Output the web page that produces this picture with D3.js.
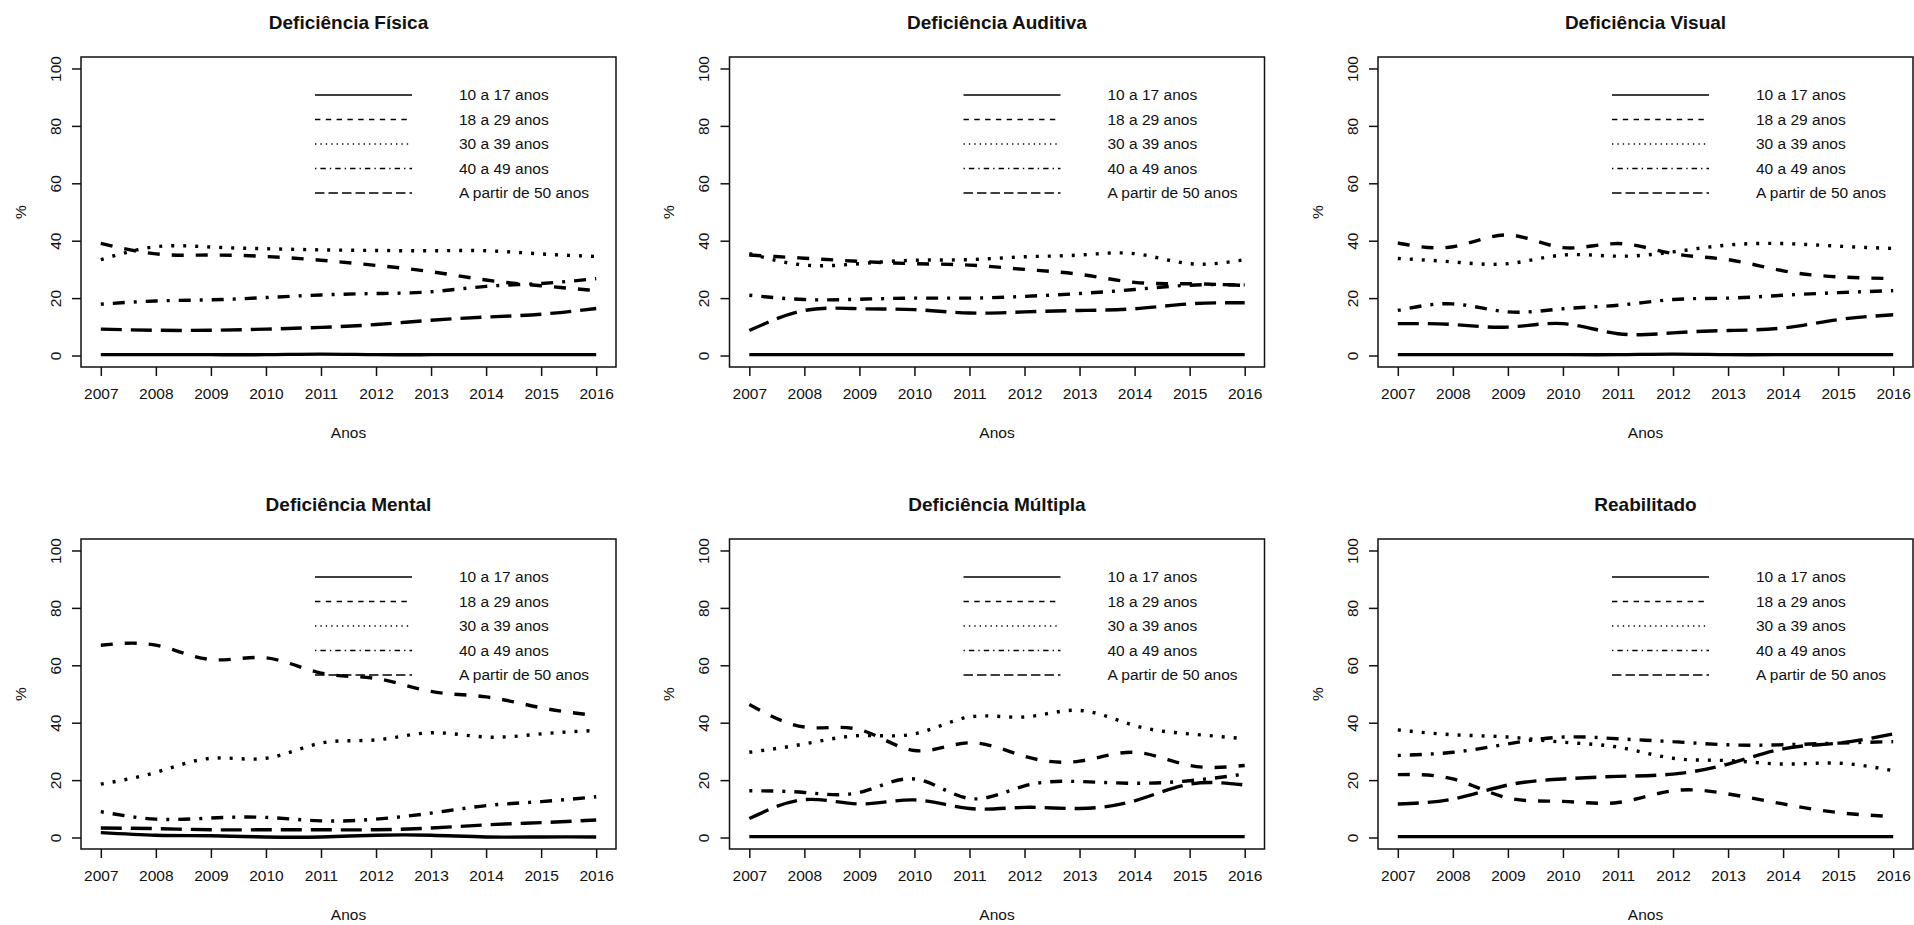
<!DOCTYPE html>
<html>
<head>
<meta charset="utf-8">
<script src="https://cdn.jsdelivr.net/npm/d3@7"></script>
<style>
  html, body { margin: 0; padding: 0; background: #fff; }
  svg text { font-family: 'Liberation Sans', Arial, sans-serif; fill: #111; }
</style>
</head>
<body>
<div class="grafico"></div>
<script>
;(function () {
  var years = [2007, 2008, 2009, 2010, 2011, 2012, 2013, 2014, 2015, 2016]
  var yTicks = [0, 20, 40, 60, 80, 100]
  var groups = ['10 a 17 anos', '18 a 29 anos', '30 a 39 anos', '40 a 49 anos', 'A partir de 50 anos']
  var titles = ['Deficiência Física', 'Deficiência Auditiva', 'Deficiência Visual',
    'Deficiência Mental', 'Deficiência Múltipla', 'Reabilitado']

  // one row per age group, same order as groups
  var fisica = [
    [0.3, 0.3, 0.3, 0.3, 0.5, 0.3, 0.3, 0.3, 0.3, 0.3],
    [39.1, 35.4, 35.0, 34.5, 33.2, 31.4, 29.2, 26.3, 24.3, 22.6],
    [33.4, 37.9, 37.8, 37.2, 36.8, 36.6, 36.5, 36.5, 35.4, 34.5],
    [17.9, 19.0, 19.4, 20.2, 21.1, 21.6, 22.2, 24.1, 25.1, 26.8],
    [9.2, 8.8, 8.8, 9.2, 9.8, 10.8, 12.3, 13.4, 14.4, 16.4]
  ]
  var auditiva = [
    [0.3, 0.3, 0.3, 0.3, 0.3, 0.3, 0.3, 0.3, 0.3, 0.3],
    [35.0, 33.9, 32.8, 32.0, 31.5, 30.0, 28.3, 25.5, 25.0, 24.4],
    [35.5, 31.5, 32.0, 33.2, 33.4, 34.4, 35.0, 35.5, 32.0, 33.4],
    [21.0, 19.5, 19.6, 20.0, 20.0, 20.6, 21.6, 23.0, 24.5, 24.6],
    [8.7, 15.7, 16.3, 16.0, 14.8, 15.2, 15.7, 16.3, 18.0, 18.4]
  ]
  var visual = [
    [0.3, 0.3, 0.3, 0.3, 0.3, 0.5, 0.3, 0.3, 0.3, 0.3],
    [39.2, 37.9, 42.0, 37.6, 39.0, 35.5, 33.4, 29.5, 27.4, 26.8],
    [33.8, 32.6, 32.0, 35.0, 34.6, 36.1, 38.5, 39.0, 38.1, 37.3],
    [15.7, 18.0, 15.2, 16.3, 17.5, 19.5, 20.0, 21.0, 21.9, 22.6],
    [11.1, 10.8, 9.9, 11.1, 7.6, 7.9, 8.7, 9.6, 12.5, 14.2]
  ]
  var mental = [
    [1.7, 0.8, 0.6, 0.2, 0.2, 0.8, 0.8, 0.2, 0.2, 0.2],
    [67.0, 67.0, 62.0, 62.6, 57.3, 55.4, 50.9, 49.0, 45.2, 42.5],
    [18.6, 22.7, 27.6, 27.6, 32.9, 34.0, 36.5, 35.0, 36.1, 37.3],
    [9.0, 6.4, 6.8, 7.0, 5.8, 6.4, 8.5, 11.1, 12.5, 14.2],
    [3.3, 3.1, 2.7, 2.7, 2.7, 2.7, 3.3, 4.4, 5.2, 6.1]
  ]
  var multipla = [
    [0.3, 0.3, 0.3, 0.3, 0.3, 0.3, 0.3, 0.3, 0.3, 0.3],
    [46.3, 38.5, 37.6, 30.3, 33.0, 28.3, 26.6, 29.7, 25.1, 25.1],
    [29.7, 32.6, 35.5, 36.1, 42.0, 42.0, 44.3, 39.0, 36.1, 34.4],
    [16.3, 15.7, 15.7, 20.4, 13.6, 18.0, 19.5, 18.9, 19.8, 22.1],
    [6.6, 13.2, 11.7, 13.1, 10.1, 10.5, 10.1, 12.8, 18.6, 18.3]
  ]
  var reabilitado = [
    [0.3, 0.3, 0.3, 0.3, 0.3, 0.3, 0.3, 0.3, 0.3, 0.3],
    [21.9, 20.4, 13.8, 12.6, 12.2, 16.3, 15.2, 11.7, 8.7, 7.3],
    [37.5, 35.8, 35.0, 33.2, 31.5, 27.6, 26.8, 25.6, 25.9, 23.3],
    [28.6, 29.7, 32.6, 35.0, 34.4, 33.4, 32.3, 32.3, 32.9, 33.4],
    [11.7, 13.4, 18.3, 20.4, 21.3, 22.1, 25.6, 30.9, 32.9, 36.1]
  ]
  var painel = [fisica, auditiva, visual, mental, multipla, reabilitado]

  var W = 1914
  var H = 925
  var BOX_W = 535
  var BOX_H = 310
  var LEFTS = [81, 729.5, 1378]
  var TOPS = [57, 539]
  // R lty patterns, scaled by line width
  var DASH_PLOT = [null, '12,12', '3,9', '3,9,12,9', '21,9']
  var DASH_LEG = [null, '5.4,5.4', '1.35,4.05', '1.35,4.05,5.4,4.05', '9.45,4.05']

  var svg = d3.select('.grafico').append('svg')
    .attr('width', W)
    .attr('height', H)
    .style('display', 'block')

  painel.forEach(function (series, i) {
    var left = LEFTS[i % 3]
    var top = TOPS[Math.floor(i / 3)]
    drawPanel(left, top, titles[i], series)
  })

  function drawPanel (left, top, title, series) {
    var x = d3.scaleLinear().domain([2006.64, 2016.36]).range([left, left + BOX_W])
    var y = d3.scaleLinear().domain([-4, 104]).range([top + BOX_H, top])
    var g = svg.append('g')

    // Title
    g.append('text')
      .attr('x', left + BOX_W / 2)
      .attr('y', top - 28)
      .attr('text-anchor', 'middle')
      .style('font-size', '19px')
      .style('font-weight', 'bold')
      .text(title)

    // Axes
    var xAxis = g.append('g')
      .attr('transform', 'translate(0,' + (top + BOX_H) + ')')
      .call(d3.axisBottom(x).tickValues(years).tickSize(9).tickPadding(12).tickFormat(d3.format('d')))
    var yAxis = g.append('g')
      .attr('transform', 'translate(' + left + ',0)')
      .call(d3.axisLeft(y).tickValues(yTicks).tickSize(9))
    ;[xAxis, yAxis].forEach(function (a) {
      a.select('.domain').remove()
      a.selectAll('line').attr('stroke', '#111').attr('stroke-width', 1.5)
      a.selectAll('text').style('font-size', '15.5px').attr('fill', '#111')
    })
    yAxis.selectAll('text')
      .attr('x', null)
      .attr('dy', null)
      .attr('text-anchor', 'middle')
      .attr('transform', 'translate(-20.5,0) rotate(-90)')

    // Axis titles
    g.append('text')
      .attr('x', left + BOX_W / 2)
      .attr('y', top + BOX_H + 71)
      .attr('text-anchor', 'middle')
      .style('font-size', '15.5px')
      .text('Anos')
    g.append('text')
      .attr('transform', 'translate(' + (left - 55.5) + ',' + (top + BOX_H / 2) + ') rotate(-90)')
      .attr('text-anchor', 'middle')
      .style('font-size', '15.5px')
      .text('%')

    // Series
    var line = d3.line()
      .x(function (d, k) { return x(years[k]) })
      .y(function (d) { return y(d) })
      .curve(d3.curveNatural)
    series.forEach(function (values, s) {
      g.append('path')
        .attr('d', line(values))
        .attr('fill', 'none')
        .attr('stroke', '#000')
        .attr('stroke-width', 3.4)
        .attr('stroke-dasharray', DASH_PLOT[s])
    })

    // Legend
    groups.forEach(function (name, s) {
      var ly = top + 38 + 24.5 * s
      g.append('line')
        .attr('x1', left + 234)
        .attr('x2', left + 331)
        .attr('y1', ly)
        .attr('y2', ly)
        .attr('stroke', '#000')
        .attr('stroke-width', 1.6)
        .attr('stroke-dasharray', DASH_LEG[s])
      g.append('text')
        .attr('x', left + 378)
        .attr('y', ly)
        .attr('dy', '0.35em')
        .style('font-size', '15.5px')
        .text(name)
    })

    // Box
    g.append('rect')
      .attr('x', left)
      .attr('y', top)
      .attr('width', BOX_W)
      .attr('height', BOX_H)
      .attr('fill', 'none')
      .attr('stroke', '#111')
      .attr('stroke-width', 1.5)
  }
})()
</script>
</body>
</html>
